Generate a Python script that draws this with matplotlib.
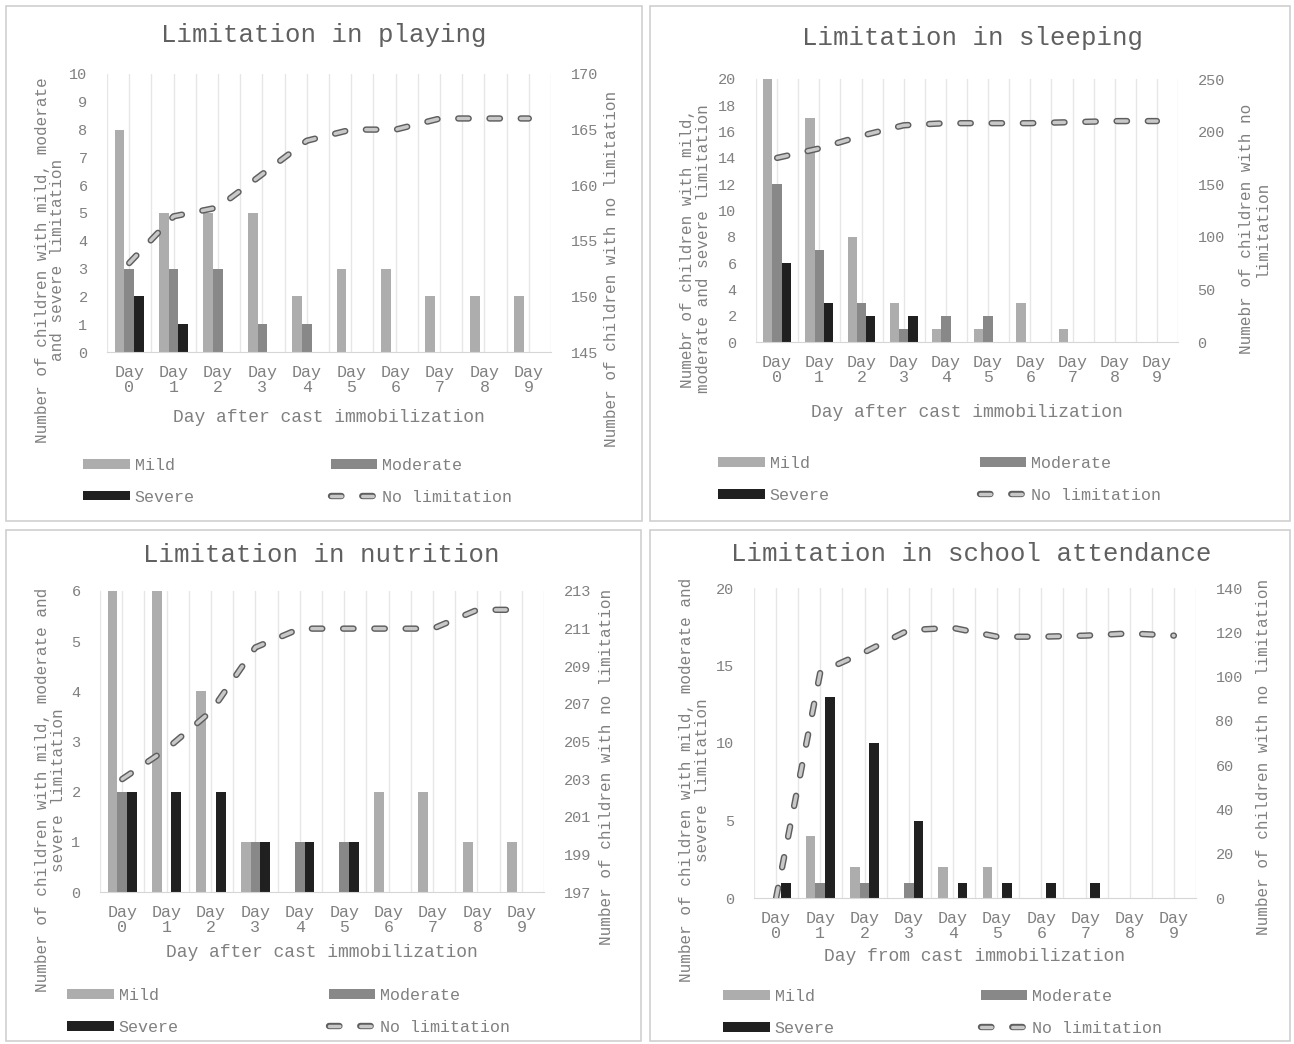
import numpy as np
import matplotlib
matplotlib.use("Agg")
import matplotlib.pyplot as plt
import matplotlib.patheffects as pe
from matplotlib.patches import Rectangle

plt.rcParams['font.family'] = ['Liberation Mono', 'DejaVu Sans Mono']

days = ['Day\n%d' % i for i in range(10)]

# Limitation in playing
play_mild = [8, 5, 5, 5, 2, 3, 3, 2, 2, 2]
play_moderate = [3, 3, 3, 1, 1, 0, 0, 0, 0, 0]
play_severe = [2, 1, 0, 0, 0, 0, 0, 0, 0, 0]
play_none = [153, 157.2, 158, 161, 164, 165, 165, 166, 166, 166]

# Limitation in sleeping
sleep_mild = [20, 17, 8, 3, 1, 1, 3, 1, 0, 0]
sleep_moderate = [12, 7, 3, 1, 2, 2, 0, 0, 0, 0]
sleep_severe = [6, 3, 2, 2, 0, 0, 0, 0, 0, 0]
sleep_none = [175, 184, 196, 206, 208, 208, 208, 209, 210, 210]

# Limitation in nutrition
nutr_mild = [6, 6, 4, 1, 0, 0, 2, 2, 1, 1]
nutr_moderate = [2, 0, 0, 1, 1, 1, 0, 0, 0, 0]
nutr_severe = [2, 2, 2, 1, 1, 1, 0, 0, 0, 0]
nutr_none = [203, 204.6, 206.6, 210, 211, 211, 211, 211, 212, 212]

# Limitation in school attendance
school_mild = [0, 4, 2, 0, 2, 2, 0, 0, 0, 0]
school_moderate = [0, 1, 1, 1, 0, 0, 0, 0, 0, 0]
school_severe = [1, 13, 10, 5, 1, 1, 1, 1, 0, 0]
school_none = [0, 102, 111, 121, 122, 118, 118, 118.5, 119.5, 118.5]

C_MILD = '#adadad'
C_MOD = '#888888'
C_SEV = '#202020'
TXT = '#808080'
TITLE = '#606060'

W, H = 1294, 1044
fig = plt.figure(figsize=(W / 100, H / 100), dpi=100)


def px_axes(x, y_top, w, h):
    return fig.add_axes([x / W, 1 - (y_top + h) / H, w / W, h / H])


def panel(box, axbox, title, title_xy, mild, moderate, severe, none,
          ylim, yticks, ylim2, yticks2, ylabel, ylab_xy, ylabel2, ylab2_xy,
          xlabel, xlab_y, leg_xy, colsp):
    bx, by, bw, bh = box
    fig.patches.append(Rectangle((bx / W, 1 - (by + bh) / H), bw / W, bh / H,
                                 transform=fig.transFigure, fill=False,
                                 edgecolor='#cfcfcf', linewidth=1.2))
    ax = px_axes(*axbox)
    x = np.arange(10)
    bw_ = 0.22
    ax.bar(x - bw_, mild, bw_, color=C_MILD, label='Mild', zorder=2)
    ax.bar(x, moderate, bw_, color=C_MOD, label='Moderate', zorder=2)
    ax.bar(x + bw_, severe, bw_, color=C_SEV, label='Severe', zorder=2)
    ax.set_xlim(-0.5, 9.5)
    ax.set_ylim(*ylim)
    ax.set_yticks(yticks)
    ax.set_xticks(x)
    ax.set_xticklabels(days, fontsize=12, color=TXT, linespacing=1.0)
    ax.set_xticks(np.arange(-0.5, 10, 1), minor=True)
    ax.grid(True, axis='x', which='both', color='#e6e6e6', linewidth=1, zorder=0)
    ax.tick_params(axis='both', which='both', length=0)
    ax.tick_params(axis='x', pad=9)
    ax.tick_params(axis='y', labelsize=11, labelcolor=TXT, pad=14)
    for s in ['left', 'right', 'top']:
        ax.spines[s].set_visible(False)
    ax.spines['bottom'].set_color('#d6d6d6')
    ax.set_axisbelow(True)
    ax.set_ylabel(ylabel, fontsize=11.5, color=TXT, linespacing=1.05)
    ax.yaxis.set_label_coords(*ylab_xy)
    ax.set_xlabel(xlabel, fontsize=13, color=TXT)
    ax.xaxis.set_label_coords(0.5, xlab_y)

    ax2 = ax.twinx()
    ln, = ax2.plot(x, none, color='#c8c8c8', linewidth=2.5,
                   linestyle=(0, (3.0, 6.0)), dash_capstyle='round',
                   label='No limitation', zorder=3)
    ln.set_path_effects([pe.Stroke(linewidth=4.6, foreground='#5e5e5e'),
                         pe.Normal()])
    ax2.set_ylim(*ylim2)
    ax2.set_yticks(yticks2)
    ax2.tick_params(axis='y', length=0, labelsize=11, labelcolor=TXT, pad=14)
    for s in ax2.spines.values():
        s.set_visible(False)
    ax2.set_ylabel(ylabel2, fontsize=11.5, color=TXT, linespacing=1.05)
    ax2.yaxis.set_label_coords(*ylab2_xy)

    fig.text(title_xy[0] / W, 1 - title_xy[1] / H, title, fontsize=18.5,
             color=TITLE, ha='center', va='center')

    h1, l1 = ax.get_legend_handles_labels()
    handles = [h1[0], h1[2], h1[1], ln]
    labels = ['Mild', 'Severe', 'Moderate', 'No limitation']
    leg = ax2.legend(handles, labels, ncol=2, loc='upper left',
                     bbox_to_anchor=(leg_xy[0] / W, 1 - leg_xy[1] / H),
                     bbox_transform=fig.transFigure, frameon=False,
                     fontsize=12, handlelength=2.8, handleheight=0.5,
                     handletextpad=0.3, labelspacing=1.0,
                     columnspacing=colsp, borderpad=0, borderaxespad=0)
    for t in leg.get_texts():
        t.set_color(TXT)


panel((6, 6, 636, 515), (107, 74, 444, 278), 'Limitation in playing', (324, 35),
      play_mild, play_moderate, play_severe, play_none,
      (0, 10), range(0, 11), (145, 170), range(145, 171, 5),
      'Number of children with mild, moderate\nand severe limitation', (-0.094, 0.33),
      'Number of children with no limitation', (1.12, 0.30),
      'Day after cast immobilization', -0.205, (83, 458), 8.15)

panel((650, 6, 640, 515), (756, 79, 422, 263), 'Limitation in sleeping', (973, 38),
      sleep_mild, sleep_moderate, sleep_severe, sleep_none,
      (0, 20), range(0, 21, 2), (0, 250), range(0, 251, 50),
      'Numebr of children with mild,\nmoderate and severe limitation', (-0.107, 0.354),
      'Numebr of children with no\nlimitation', (1.145, 0.43),
      'Day after cast immobilization', -0.235, (718, 456), 9.0)

panel((6, 530, 635, 511), (100, 591, 444, 301), 'Limitation in nutrition', (321, 555),
      nutr_mild, nutr_moderate, nutr_severe, nutr_none,
      (0, 6), range(0, 7), (197, 213), range(197, 214, 2),
      'Number of children with mild, moderate and\nsevere limitation', (-0.077, 0.339),
      'Number of children with no limitation', (1.123, 0.415),
      'Day after cast immobilization', -0.173, (67, 988), 9.0)

panel((650, 530, 640, 511), (754, 588, 442, 310), 'Limitation in school attendance', (971, 554),
      school_mild, school_moderate, school_severe, school_none,
      (0, 20), range(0, 21, 5), (0, 140), range(0, 141, 20),
      'Number of children with mild, moderate and\nsevere limitation', (-0.1, 0.38),
      'Number of children with no limitation', (1.135, 0.455),
      'Day from cast immobilization', -0.162, (723, 989), 8.75)

fig.savefig('out.png', dpi=100, facecolor='white')
